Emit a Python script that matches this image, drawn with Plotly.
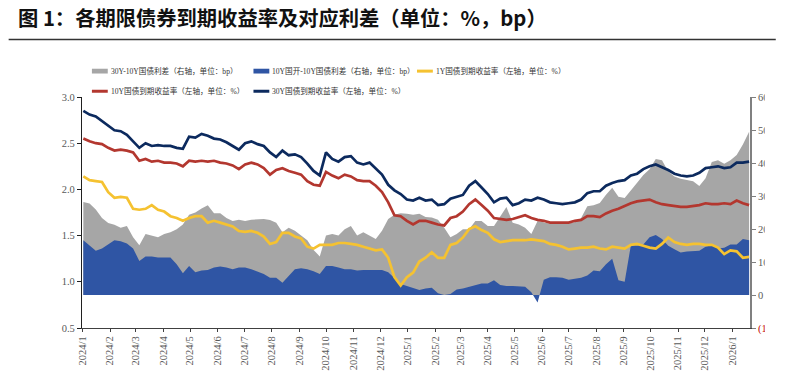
import pandas as pd
import plotly.graph_objects as go

# weekly observation dates
dates = pd.date_range("2024-01-02", periods=108, freq="7D")

# 30Y government bond yield (%, left axis)
y30 = [2.85, 2.81, 2.79, 2.74, 2.70, 2.64, 2.63, 2.59, 2.52, 2.45, 2.50, 2.47, 2.48, 2.47, 2.47, 2.45, 2.44, 2.57, 2.56, 2.60, 2.58, 2.55, 2.54, 2.51, 2.47, 2.43, 2.50,
       2.52, 2.49, 2.47, 2.40, 2.35, 2.42, 2.37, 2.38, 2.35, 2.28, 2.20, 2.15, 2.40, 2.33, 2.30, 2.35, 2.36, 2.29, 2.27, 2.29, 2.22, 2.16, 2.05, 1.99, 1.95, 1.89, 1.88,
       1.91, 1.88, 1.89, 1.83, 1.84, 1.90, 1.92, 1.94, 2.04, 2.09, 2.02, 1.95, 1.86, 1.90, 1.91, 1.83, 1.85, 1.89, 1.88, 1.91, 1.89, 1.86, 1.85, 1.84, 1.85, 1.86, 1.89,
       1.96, 1.98, 1.98, 2.04, 2.07, 2.09, 2.10, 2.15, 2.17, 2.22, 2.25, 2.27, 2.24, 2.21, 2.17, 2.15, 2.14, 2.15, 2.18, 2.23, 2.24, 2.25, 2.23, 2.24, 2.29, 2.29, 2.30]

# 10Y government bond yield (%, left axis)
y10 = [2.55, 2.52, 2.50, 2.49, 2.45, 2.42, 2.43, 2.42, 2.40, 2.31, 2.33, 2.30, 2.31, 2.29, 2.29, 2.28, 2.25, 2.31, 2.30, 2.31, 2.30, 2.31, 2.29, 2.28, 2.26, 2.22, 2.27,
       2.29, 2.27, 2.23, 2.16, 2.21, 2.23, 2.20, 2.18, 2.16, 2.09, 2.05, 2.04, 2.19, 2.15, 2.12, 2.16, 2.14, 2.10, 2.09, 2.09, 2.04, 1.97, 1.86, 1.72, 1.71, 1.66, 1.62,
       1.66, 1.66, 1.64, 1.62, 1.61, 1.69, 1.71, 1.76, 1.84, 1.89, 1.83, 1.77, 1.69, 1.68, 1.67, 1.68, 1.70, 1.72, 1.69, 1.67, 1.66, 1.64, 1.64, 1.64, 1.64, 1.66, 1.67,
       1.71, 1.71, 1.70, 1.74, 1.77, 1.79, 1.82, 1.85, 1.87, 1.88, 1.89, 1.86, 1.84, 1.83, 1.82, 1.81, 1.81, 1.82, 1.83, 1.85, 1.84, 1.84, 1.85, 1.84, 1.88, 1.85, 1.83]

# 1Y government bond yield (%, left axis)
y1 = [2.14, 2.10, 2.09, 2.08, 1.97, 1.91, 1.92, 1.91, 1.79, 1.78, 1.79, 1.83, 1.78, 1.76, 1.71, 1.69, 1.66, 1.69, 1.71, 1.71, 1.64, 1.66, 1.64, 1.62, 1.60, 1.55, 1.54,
      1.55, 1.53, 1.49, 1.41, 1.43, 1.53, 1.53, 1.49, 1.47, 1.38, 1.36, 1.40, 1.40, 1.40, 1.42, 1.42, 1.41, 1.40, 1.38, 1.36, 1.34, 1.35, 1.26, 1.05, 0.96, 1.05, 1.10,
      1.22, 1.26, 1.32, 1.26, 1.26, 1.40, 1.42, 1.48, 1.57, 1.60, 1.56, 1.53, 1.46, 1.43, 1.44, 1.45, 1.45, 1.45, 1.46, 1.45, 1.44, 1.41, 1.40, 1.38, 1.35, 1.36, 1.37,
      1.37, 1.38, 1.36, 1.35, 1.38, 1.37, 1.36, 1.40, 1.41, 1.39, 1.37, 1.36, 1.41, 1.48, 1.43, 1.41, 1.40, 1.41, 1.41, 1.40, 1.40, 1.37, 1.30, 1.34, 1.33, 1.26, 1.27]

# 30Y-10Y government spread (bp, right axis)
spread_30_10 = [28.2, 27.7, 25.9, 23.3, 21.8, 21.3, 20.4, 20.9, 17.5, 15.1, 18.5, 18.0, 17.5, 18.5, 19.0, 19.9, 21.4, 24.3, 25.0, 26.2, 27.2, 24.8, 24.8, 23.3, 22.4, 22.8, 22.4,
                22.8, 22.8, 23.0, 22.7, 21.9, 19.0, 20.4, 19.5, 18.0, 16.6, 13.6, 11.7, 18.0, 18.5, 18.0, 19.9, 20.9, 18.0, 19.0, 18.0, 17.0, 19.5, 23.0, 24.3, 24.8, 24.6, 24.3,
                24.6, 23.6, 23.5, 22.8, 20.4, 17.5, 18.5, 19.9, 19.9, 22.4, 22.4, 20.9, 20.9, 24.0, 26.7, 21.9, 21.4, 20.4, 18.5, 22.4, 21.9, 21.6, 21.7, 21.7, 21.7, 22.1, 23.3,
                26.9, 27.2, 27.9, 30.4, 32.5, 29.8, 29.4, 31.6, 34.0, 36.4, 38.1, 41.2, 40.8, 37.4, 35.9, 35.2, 34.9, 34.5, 33.0, 35.4, 40.3, 40.8, 39.8, 40.8, 42.4, 45.6, 49.5]

# 10Y CDB - 10Y government spread (bp, right axis)
spread_cdb_10 = [16.6, 15.1, 13.4, 14.1, 15.3, 16.6, 16.3, 15.6, 14.1, 10.3, 11.7, 11.7, 11.4, 11.4, 11.4, 9.3, 6.6, 8.8, 6.9, 7.4, 7.6, 8.3, 8.6, 8.3, 7.8, 8.3, 8.3,
                 7.8, 7.2, 6.4, 5.2, 5.2, 3.7, 5.9, 7.8, 8.1, 7.8, 7.2, 6.4, 8.8, 8.8, 8.3, 7.8, 7.8, 7.4, 7.6, 7.6, 7.8, 7.6, 6.9, 5.2, 3.3, 2.7, 2.0,
                 1.5, 2.0, 2.2, 0.5, 0.0, 0.3, 1.7, 2.0, 2.5, 3.0, 3.5, 3.5, 4.5, 3.0, 2.7, 2.7, 2.5, 2.5, 0.8, -2.3, 4.6, 5.4, 5.4, 5.2, 4.6, 4.9, 5.2,
                 5.9, 7.4, 7.2, 9.3, 11.0, 4.5, 4.0, 15.1, 14.9, 15.3, 17.5, 18.2, 17.0, 14.9, 13.9, 12.9, 13.2, 13.2, 13.4, 14.6, 15.1, 14.1, 14.3, 15.3, 15.3, 17.0, 16.6]

# axis ticks
month_ticks = ["2024-01-01", "2024-02-01", "2024-03-01", "2024-04-01", "2024-05-01", "2024-06-01", "2024-07-01",
               "2024-08-01", "2024-09-01", "2024-10-01", "2024-11-01", "2024-12-01", "2025-01-01", "2025-02-01",
               "2025-03-01", "2025-04-01", "2025-05-01", "2025-06-01", "2025-07-01", "2025-08-01", "2025-09-01",
               "2025-10-01", "2025-11-01", "2025-12-01", "2026-01-01"]
month_labels = ["2024/1", "2024/2", "2024/3", "2024/4", "2024/5", "2024/6", "2024/7", "2024/8", "2024/9",
                "2024/10", "2024/11", "2024/12", "2025/1", "2025/2", "2025/3", "2025/4", "2025/5", "2025/6",
                "2025/7", "2025/8", "2025/9", "2025/10", "2025/11", "2025/12", "2026/1"]
right_tickvals = [-10, 0, 10, 20, 30, 40, 50, 60]
right_ticktext = ['<span style="color:#C00000">(10)</span>', "0", "10", "20", "30", "40", "50", "60"]

GRAY = "#A6A6A6"
BLUE = "#2F55A4"
YELLOW = "#F5C231"
RED = "#B3372F"
NAVY = "#0C2A5E"

fig = go.Figure()
fig.add_trace(go.Scatter(x=dates, y=spread_30_10, yaxis="y", mode="lines", line=dict(width=0, color=GRAY),
                         fill="tozeroy", fillcolor=GRAY, name="30Y-10Y国债利差"))
fig.add_trace(go.Scatter(x=dates, y=spread_cdb_10, yaxis="y", mode="lines", line=dict(width=0, color=BLUE),
                         fill="tozeroy", fillcolor=BLUE, name="10Y国开-10Y国债利差"))
fig.add_trace(go.Scatter(x=dates, y=y1, yaxis="y2", mode="lines", line=dict(width=2.7, color=YELLOW),
                         name="1Y国债到期收益率"))
fig.add_trace(go.Scatter(x=dates, y=y10, yaxis="y2", mode="lines", line=dict(width=2.7, color=RED),
                         name="10Y国债到期收益率"))
fig.add_trace(go.Scatter(x=dates, y=y30, yaxis="y2", mode="lines", line=dict(width=2.7, color=NAVY),
                         name="30Y国债到期收益率"))

tickfont = dict(family="Liberation Serif, Noto Sans CJK SC", size=10.5, color="#595959")

# plot area geometry in pixels (for legend placement)
L, R, T, B = 82, 756, 97, 338
def px(x):
    return (x - L) / (R - L)
def py(y):
    return (B - y) / (B - T)

shapes = []
annotations = []
legend_font = dict(family="Liberation Serif, Noto Sans CJK SC", size=7.6, color="#333333")
legend_items = [
    ("rect", GRAY, 92, 70, "30Y-10Y国债利差（右轴，单位：bp）"),
    ("rect", BLUE, 255, 70, "10Y国开-10Y国债利差（右轴，单位：bp）"),
    ("line", YELLOW, 420, 70, "1Y国债到期收益率（左轴，单位：%）"),
    ("line", RED, 92, 91, "10Y国债到期收益率（左轴，单位：%）"),
    ("line", NAVY, 255, 91, "30Y国债到期收益率（左轴，单位：%）"),
]
for kind, color, x0, yc, label in legend_items:
    if kind == "rect":
        shapes.append(dict(type="rect", xref="paper", yref="paper", x0=px(x0), x1=px(x0 + 16),
                           y0=py(yc + 2.5), y1=py(yc - 2.5), fillcolor=color, line=dict(width=0)))
    else:
        shapes.append(dict(type="line", xref="paper", yref="paper", x0=px(x0), x1=px(x0 + 16),
                           y0=py(yc), y1=py(yc), line=dict(color=color, width=3)))
    annotations.append(dict(text=label, xref="paper", yref="paper", x=px(x0 + 17), y=py(yc),
                            xanchor="left", yanchor="middle", showarrow=False, font=legend_font))

# rule under the title
shapes.append(dict(type="line", xref="paper", yref="paper", x0=px(8), x1=px(782), y0=py(37), y1=py(37),
                   line=dict(color="#333333", width=1.5)))
# crop of the right tick labels (as in the source picture)
shapes.append(dict(type="rect", xref="paper", yref="paper", x0=px(771), x1=px(800), y0=py(350), y1=py(85),
                   fillcolor="white", line=dict(width=0), layer="above"))

fig.update_layout(
    width=788, height=383,
    margin=dict(l=L, r=788 - R, t=T, b=383 - B),
    paper_bgcolor="white", plot_bgcolor="white",
    showlegend=False,
    hovermode=False,
    title=dict(text="<b>图 1：各期限债券到期收益率及对应利差（单位：%，bp）</b>",
               x=18 / 788, xanchor="left", xref="container",
               y=1 - 19 / 383, yanchor="middle", yref="container",
               font=dict(family="Noto Sans CJK SC", size=20.3, color="#111111")),
    xaxis=dict(type="date", range=["2023-12-31 12:00", "2026-01-21"],
               tickvals=month_ticks, ticktext=month_labels, tickangle=-90,
               tickfont=tickfont, showline=True, linecolor="#404040", linewidth=1.2,
               ticks="outside", ticklen=3, tickcolor="#404040", showgrid=False, zeroline=False),
    yaxis=dict(range=[-10, 60], side="right", tickvals=right_tickvals, ticktext=right_ticktext,
               tickfont=tickfont, showline=True, linecolor="#808080", linewidth=2,
               ticks="outside", ticklen=4, tickcolor="#808080", showgrid=False, zeroline=False),
    yaxis2=dict(range=[0.5, 3.0], overlaying="y", side="left", dtick=0.5, tick0=0.5, tickformat=".1f",
                tickfont=tickfont, showline=True, linecolor="#202020", linewidth=1.2,
                ticks="outside", ticklen=4, tickcolor="#202020", showgrid=False, zeroline=False),
    shapes=shapes,
    annotations=annotations,
)

fig.write_html("out.html", config={"displayModeBar": False},
               post_script="document.body.style.margin='0px';document.body.style.overflow='hidden';")
